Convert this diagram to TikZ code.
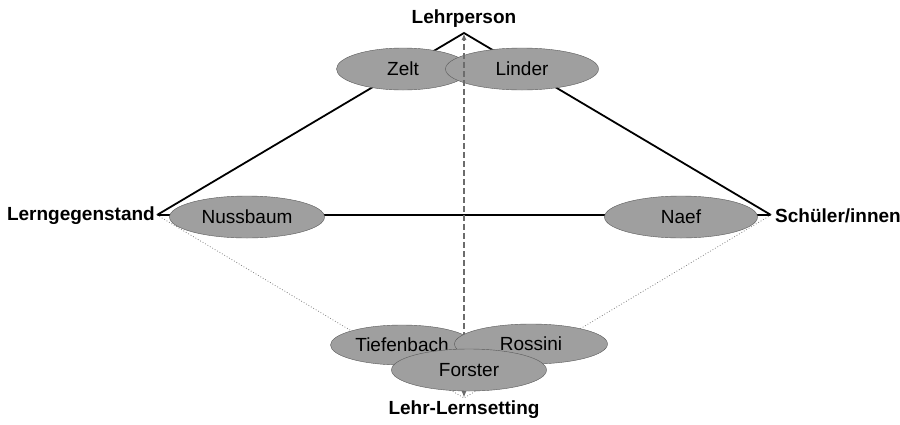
\documentclass[tikz,border=0pt]{standalone}
\usepackage{fontspec}
\setmainfont{Liberation Sans}
\usetikzlibrary{arrows.meta,shapes.geometric}

\begin{document}
\begin{tikzpicture}[x=1pt, y=-1pt,
      >={Latex[length=7pt,width=5pt]},
      every node/.append style={font=\fontsize{19}{21}\selectfont, inner sep=0pt},
      person/.style={draw=gray!70!black, fill=gray!75, ellipse, minimum height=42pt},
      pole/.style={font=\fontsize{19}{21}\selectfont\bfseries},
      side/.style={line width=1.8pt},
      thin/.style={gray, dotted, line width=0.8pt}]

     \useasboundingbox (0,0) rectangle (900,424);

     % Ecken des Dreiecks
     \coordinate (top) at (464,33);
     \coordinate (lft) at (157,215);
     \coordinate (rgt) at (771,215);
     \coordinate (bot) at (464,398);

     \node [pole, anchor=south] (LP) at (464,28) {Lehrperson};
     \node [pole, anchor=east]  (LG) at (155,216) {Lerngegenstand};
     \node [pole, anchor=west]  (SI) at (775,216) {Schüler/innen};
     \node [pole, anchor=north] (LS) at (464,401) {Lehr-Lernsetting};

     \draw [side] (lft) -- (top) -- (rgt);
     \draw [side] (lft) -- (rgt);
     \draw [thin] (lft) -- (bot) -- (rgt);

     \node [person, minimum width=133pt] (Zelt)   at (403,69)  {Zelt};
     \node [person, minimum width=153pt] (Linder) at (522,69)  {Linder};
     \node [person, minimum width=155pt] (Nuss)   at (247,217) {Nussbaum};
     \node [person, minimum width=153pt] (Naef)   at (681,217) {Naef};

     \draw [<->, gray!85!black, dash pattern=on 6pt off 3pt, line width=1.6pt] (bot) -- (top);

     \node [person, minimum width=143pt, minimum height=40pt] (Tief)    at (402,345) {Tiefenbach};
     \node [person, minimum width=153pt, minimum height=40pt] (Rossini) at (531,344) {Rossini};
     \node [person, minimum width=155pt] (Forster) at (469,370) {Forster};
  \end{tikzpicture}
\end{document}
